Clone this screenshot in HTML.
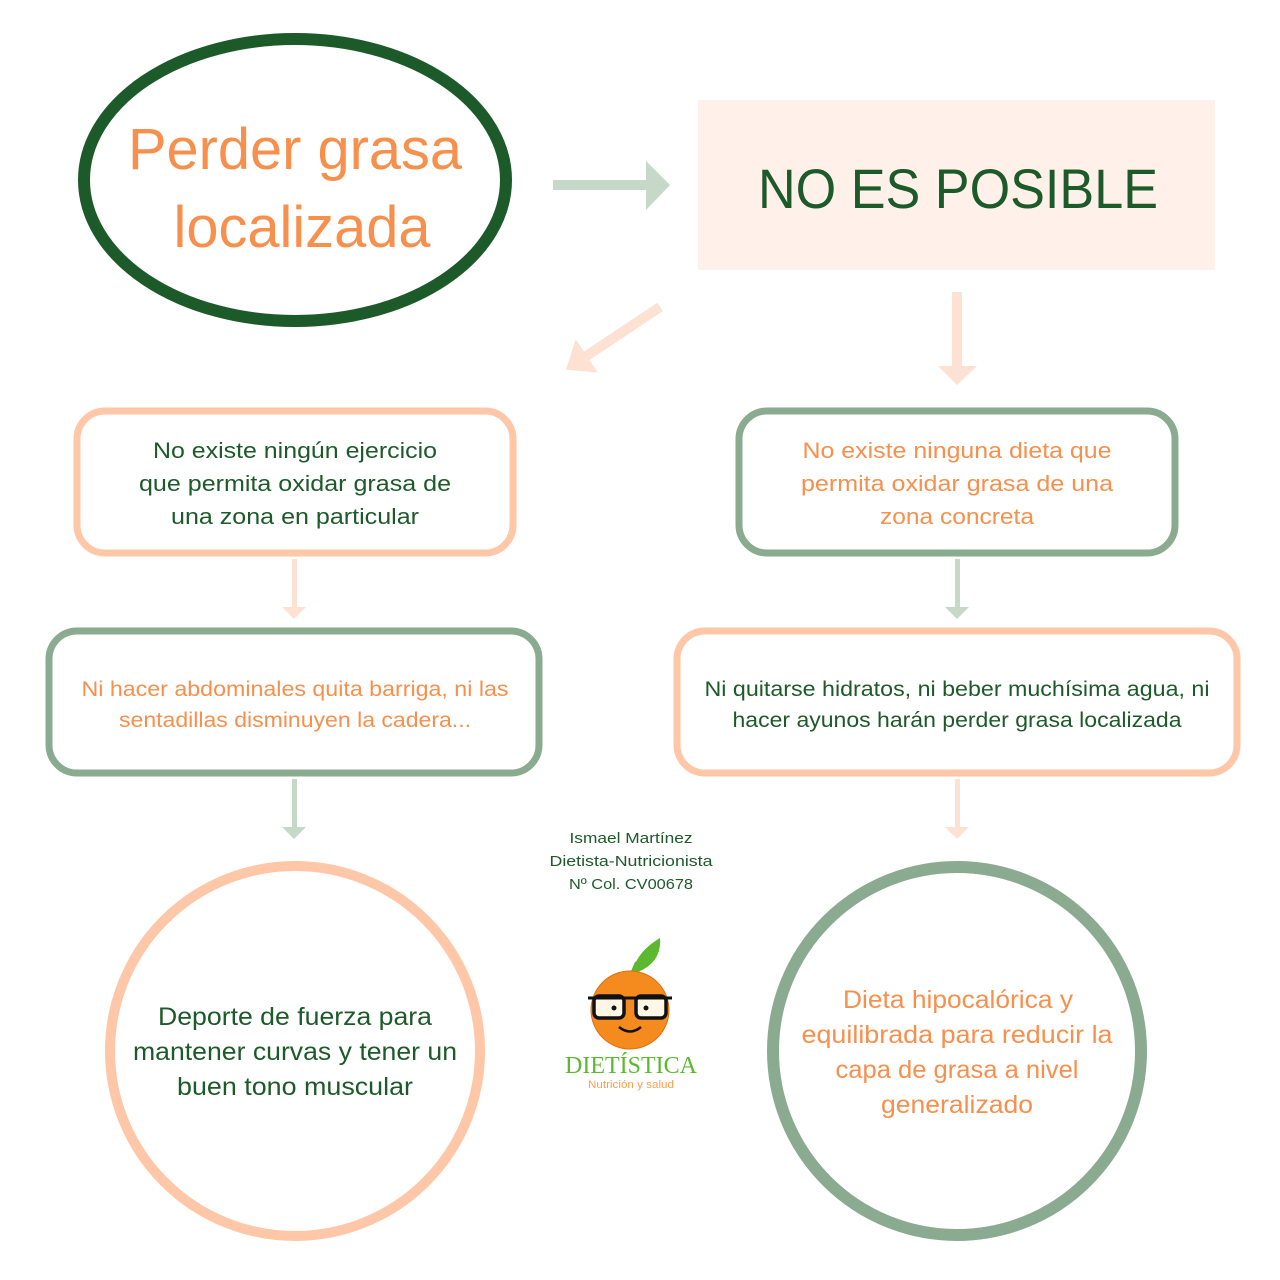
<!DOCTYPE html>
<html><head><meta charset="utf-8"><style>
html,body{margin:0;padding:0;background:#fff}
svg{display:block}
text{font-family:"Liberation Sans",sans-serif}
</style></head><body>
<svg width="1280" height="1280" viewBox="0 0 1280 1280" xmlns="http://www.w3.org/2000/svg">
<rect width="1280" height="1280" fill="#fff"/>
<!-- ellipse -->
<ellipse cx="295" cy="180" rx="211" ry="141" fill="none" stroke="#1d5a29" stroke-width="12"/>
<g fill="#f78f4d" font-size="58" text-anchor="middle">
<text x="295" y="169" textLength="334" lengthAdjust="spacingAndGlyphs">Perder grasa</text>
<text x="302" y="247" textLength="257" lengthAdjust="spacingAndGlyphs">localizada</text>
</g>
<!-- rect -->
<rect x="698" y="100" width="517" height="170" fill="#fff1ea"/>
<text x="958" y="208" fill="#1d5a29" font-size="56" text-anchor="middle" textLength="400" lengthAdjust="spacingAndGlyphs">NO ES POSIBLE</text>
<!-- arrows -->
<polygon points="553,180 646,180 646,161 670,185 646,210 646,190 553,190" fill="#c6d8c8"/>
<g transform="translate(660,307) rotate(146.3)">
<polygon points="0,-5 88,-5 88,-20 113,0 88,20 88,5 0,5" fill="#fde1d3"/>
</g>
<polygon points="952,292 962,292 962,366 977,366 957,385 938,366 952,366" fill="#fde1d3"/>
<!-- boxes -->
<rect x="77" y="411" width="436" height="142" rx="28" fill="#fff" stroke="#fec7a7" stroke-width="7"/>
<rect x="739" y="411" width="436" height="142" rx="28" fill="#fff" stroke="#8aab8f" stroke-width="7"/>
<rect x="49" y="631" width="490" height="142" rx="28" fill="#fff" stroke="#8aab8f" stroke-width="7"/>
<rect x="677" y="631" width="560" height="142" rx="28" fill="#fff" stroke="#fec7a7" stroke-width="7"/>
<!-- small arrows -->
<polygon points="292,559 297,559 297,607 306,607 294,619 282,607 292,607" fill="#fde1d3"/>
<polygon points="955,559 960,559 960,607 969,607 957,619 945,607 955,607" fill="#c6d8c8"/>
<polygon points="292,779 297,779 297,827 306,827 294,839 282,827 292,827" fill="#c6d8c8"/>
<polygon points="955,779 960,779 960,827 969,827 957,839 945,827 955,827" fill="#fde1d3"/>
<!-- box texts -->
<g fill="#1d5a29" font-size="22" text-anchor="middle">
<text x="295" y="458" textLength="284" lengthAdjust="spacingAndGlyphs">No existe ningún ejercicio</text>
<text x="295" y="491" textLength="312" lengthAdjust="spacingAndGlyphs">que permita oxidar grasa de</text>
<text x="295" y="524" textLength="248" lengthAdjust="spacingAndGlyphs">una zona en particular</text>
</g>
<g fill="#f78f4d" font-size="22" text-anchor="middle">
<text x="957" y="458" textLength="309" lengthAdjust="spacingAndGlyphs">No existe ninguna dieta que</text>
<text x="957" y="491" textLength="312" lengthAdjust="spacingAndGlyphs">permita oxidar grasa de una</text>
<text x="957" y="524" textLength="154" lengthAdjust="spacingAndGlyphs">zona concreta</text>
</g>
<g fill="#f78f4d" font-size="21" text-anchor="middle">
<text x="295" y="696" textLength="427" lengthAdjust="spacingAndGlyphs">Ni hacer abdominales quita barriga, ni las</text>
<text x="295" y="727" textLength="352" lengthAdjust="spacingAndGlyphs">sentadillas disminuyen la cadera...</text>
</g>
<g fill="#1d5a29" font-size="21" text-anchor="middle">
<text x="957" y="696" textLength="505" lengthAdjust="spacingAndGlyphs">Ni quitarse hidratos, ni beber muchísima agua, ni</text>
<text x="957" y="727" textLength="449" lengthAdjust="spacingAndGlyphs">hacer ayunos harán perder grasa localizada</text>
</g>
<!-- circles -->
<circle cx="295" cy="1051" r="185" fill="none" stroke="#fec7a7" stroke-width="10"/>
<circle cx="957" cy="1051" r="184" fill="none" stroke="#8aab8f" stroke-width="12"/>
<g fill="#1d5a29" font-size="25" text-anchor="middle">
<text x="295" y="1025" textLength="274" lengthAdjust="spacingAndGlyphs">Deporte de fuerza para</text>
<text x="295" y="1060" textLength="324" lengthAdjust="spacingAndGlyphs">mantener curvas y tener un</text>
<text x="295" y="1095" textLength="236" lengthAdjust="spacingAndGlyphs">buen tono muscular</text>
</g>
<g fill="#f78f4d" font-size="25" text-anchor="middle">
<text x="958" y="1008" textLength="230" lengthAdjust="spacingAndGlyphs">Dieta hipocalórica y</text>
<text x="957" y="1043" textLength="311" lengthAdjust="spacingAndGlyphs">equilibrada para reducir la</text>
<text x="957" y="1078" textLength="243" lengthAdjust="spacingAndGlyphs">capa de grasa a nivel</text>
<text x="957" y="1113" textLength="152" lengthAdjust="spacingAndGlyphs">generalizado</text>
</g>
<!-- credits -->
<g fill="#1d5a29" font-size="15" text-anchor="middle">
<text x="631" y="843" textLength="123" lengthAdjust="spacingAndGlyphs">Ismael Martínez</text>
<text x="631" y="866" textLength="163" lengthAdjust="spacingAndGlyphs">Dietista-Nutricionista</text>
<text x="631" y="889" textLength="124" lengthAdjust="spacingAndGlyphs">Nº Col. CV00678</text>
</g>
<!-- logo -->
<path d="M632,974 Q636,952 660,938 Q662,962 638,972 Z" fill="#5cb82f"/>
<line x1="630" y1="976" x2="636" y2="962" stroke="#5cb82f" stroke-width="2"/>
<circle cx="630" cy="1010" r="39" fill="#f58a1f"/>
<circle cx="630" cy="1010" r="39" fill="none" stroke="#e0700f" stroke-width="1"/>
<g fill="#fff6e6" stroke="#111" stroke-width="3.5">
<rect x="594" y="996" width="30" height="22" rx="5"/>
<rect x="636" y="996" width="30" height="22" rx="5"/>
</g>
<line x1="588" y1="998" x2="672" y2="998" stroke="#111" stroke-width="3"/>
<circle cx="614" cy="1008" r="2.5" fill="#111"/>
<circle cx="646" cy="1008" r="2.5" fill="#111"/>
<path d="M619,1027 Q630,1036 641,1027" fill="none" stroke="#111" stroke-width="2.5"/>
<text x="631" y="1073" fill="#5cb82f" font-family="Liberation Serif,serif" font-size="24" text-anchor="middle" textLength="132" lengthAdjust="spacingAndGlyphs" style="font-family:'Liberation Serif',serif">DIETÍSTICA</text>
<text x="631" y="1088" fill="#f7a04d" font-size="11" text-anchor="middle" textLength="86" lengthAdjust="spacingAndGlyphs">Nutrición y salud</text>
</svg>
</body></html>
